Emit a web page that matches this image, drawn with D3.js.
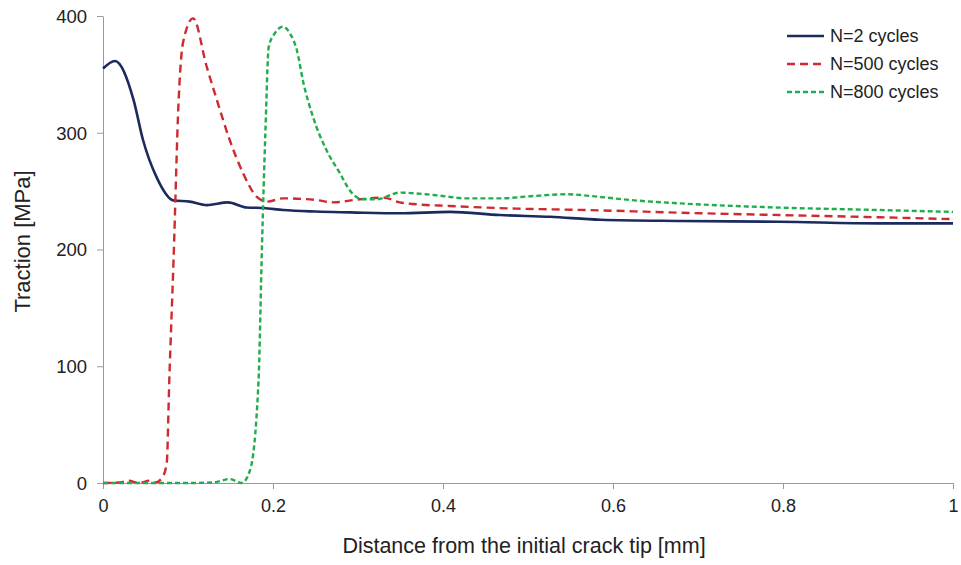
<!DOCTYPE html>
<html>
<head>
<meta charset="utf-8">
<script src="https://cdn.jsdelivr.net/npm/d3@7"></script>
<style>
  body { margin: 0; background: #fff; }
  svg text { font-family: "Liberation Sans", Arial, sans-serif; fill: #222; }
</style>
</head>
<body>
<svg id="chart" width="961" height="565"></svg>
<script>
// distance from crack tip [mm]
var xN2 = [0, 0.014, 0.036, 0.047, 0.063, 0.083, 0.102, 0.122, 0.147, 0.169, 0.189, 0.212, 0.25, 0.291, 0.349, 0.408, 0.467, 0.526, 0.585, 0.679, 0.796, 0.914, 1.0];
var tN2 = [355, 361.5, 328, 294, 262, 242, 241, 238, 240.4, 236, 235.5, 233.8, 232.5, 231.8, 231, 232.2, 229.5, 228, 225.5, 224.4, 223.8, 222.4, 222.4];

var xN500 = [0, 0.02, 0.03, 0.042, 0.055, 0.062, 0.07, 0.075, 0.078, 0.083, 0.089, 0.094, 0.106, 0.122, 0.134, 0.149, 0.165, 0.181, 0.193, 0.212, 0.251, 0.271, 0.302, 0.33, 0.349, 0.369, 0.408, 0.447, 0.487, 0.526, 0.585, 0.679, 0.796, 0.914, 1.0];
var tN500 = [0, 0.5, 2, 0, 2, 0.5, 5, 17, 88, 191, 328, 376.6, 398, 356.6, 328, 294, 265, 245, 241, 243.8, 242.4, 240.4, 243, 244.4, 240.4, 238.7, 237.3, 236, 235, 234.4, 233.5, 231.5, 229.5, 227.6, 226];

var xN800 = [0, 0.05, 0.1, 0.13, 0.149, 0.163, 0.173, 0.183, 0.187, 0.191, 0.195, 0.202, 0.212, 0.22, 0.228, 0.236, 0.247, 0.263, 0.279, 0.291, 0.306, 0.322, 0.349, 0.389, 0.428, 0.467, 0.506, 0.545, 0.585, 0.62, 0.679, 0.796, 0.914, 1.0];
var tN800 = [0, 0, 0, 0.5, 3.4, 0, 11, 88, 202, 299.5, 373.7, 385, 390.8, 385, 370.9, 342, 313.7, 285, 265, 250, 243, 243, 248.7, 246.7, 243.8, 243.8, 245.8, 247.3, 245, 242.4, 239.5, 235.9, 233.8, 232.2];

var seriesNames = ["N=2 cycles", "N=500 cycles", "N=800 cycles"];
var seriesColors = ["#1c2b5e", "#cf2a30", "#22ac4e"];
var seriesDash = [null, "8,5", "5,3"];
var xTicks = [0, 0.2, 0.4, 0.6, 0.8, 1];
var yTicks = [0, 100, 200, 300, 400];

var series = [
  { name: seriesNames[0], xs: xN2, ys: tN2 },
  { name: seriesNames[1], xs: xN500, ys: tN500 },
  { name: seriesNames[2], xs: xN800, ys: tN800 }
];

var margin = { left: 103, top: 16, right: 8, bottom: 82 };
var width = 961 - margin.left - margin.right;
var height = 565 - margin.top - margin.bottom;

var svg = d3.select("#chart");
var g = svg.append("g").attr("transform", "translate(" + margin.left + "," + margin.top + ")");

var x = d3.scaleLinear().domain([0, 1]).range([0, width]);
var y = d3.scaleLinear().domain([0, 400]).range([height, 0]);

// y axis
var yAxis = g.append("g")
  .call(d3.axisLeft(y).tickValues(yTicks).tickSize(6).tickSizeOuter(0).tickPadding(10).tickFormat(d3.format("d")));
yAxis.select(".domain").attr("stroke", "#9a9a9a");
yAxis.selectAll(".tick line").attr("stroke", "#9a9a9a");
yAxis.selectAll(".tick text").attr("font-size", 18.5).attr("dy", "0.35em");

// x axis
var xAxis = g.append("g").attr("transform", "translate(0," + height + ")")
  .call(d3.axisBottom(x).tickValues(xTicks).tickSize(6).tickSizeOuter(0).tickPadding(10).tickFormat(function(d){ return d === 0 || d === 1 ? d : d3.format(".1f")(d); }));
xAxis.select(".domain").attr("stroke", "#9a9a9a");
xAxis.selectAll(".tick line").attr("stroke", "#9a9a9a");
xAxis.selectAll(".tick text").attr("font-size", 18);

// titles
svg.append("text")
  .attr("x", 524)
  .attr("y", 553)
  .attr("text-anchor", "middle")
  .attr("font-size", 21.5)
  .text("Distance from the initial crack tip [mm]");

svg.append("text")
  .attr("transform", "translate(30,241.5) rotate(-90)")
  .attr("text-anchor", "middle")
  .attr("font-size", 22)
  .text("Traction [MPa]");

// lines
var line = d3.line()
  .x(function(d){ return x(d[0]); })
  .y(function(d){ return y(d[1]); })
  .curve(d3.curveMonotoneX);

series.forEach(function(s, i){
  var pts = s.xs.map(function(v, j){ return [v, s.ys[j]]; });
  g.append("path")
    .datum(pts)
    .attr("fill", "none")
    .attr("stroke", seriesColors[i])
    .attr("stroke-width", i === 0 ? 2.6 : 2.4)
    .attr("stroke-dasharray", seriesDash[i])
    .attr("d", line);
});

// legend
var legend = svg.append("g").attr("transform", "translate(787,36)");
seriesNames.forEach(function(name, i){
  var row = legend.append("g").attr("transform", "translate(0," + (i * 28) + ")");
  row.append("line")
    .attr("x1", 0).attr("x2", 37).attr("y1", 0).attr("y2", 0)
    .attr("stroke", seriesColors[i])
    .attr("stroke-width", 2.4)
    .attr("stroke-dasharray", seriesDash[i]);
  row.append("text")
    .attr("x", 43).attr("y", 0).attr("dy", "0.35em")
    .attr("font-size", 18)
    .text(name);
});
</script>
</body>
</html>
